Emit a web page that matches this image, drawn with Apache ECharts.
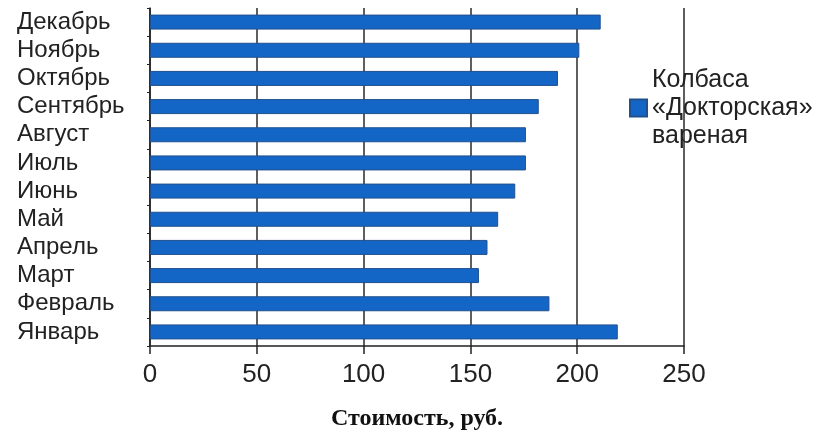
<!DOCTYPE html>
<html lang="ru">
<head>
    <meta charset="UTF-8">
    <title>Колбаса</title>
    <style>
        body { margin: 0; overflow: hidden; background: #fff; }
        #chart { width: 819px; height: 436px; }
    </style>
</head>
<body>
    <div id="chart"></div>
    <script src="https://cdn.jsdelivr.net/npm/echarts@6/dist/echarts.min.js"></script>
    <script>
        // месяцы снизу вверх (Январь внизу)
        var months = ['Январь', 'Февраль', 'Март', 'Апрель', 'Май', 'Июнь',
            'Июль', 'Август', 'Сентябрь', 'Октябрь', 'Ноябрь', 'Декабрь'];
        var prices = [219, 187, 154, 158, 163, 171, 176, 176, 182, 191, 201, 211];
        var seriesName = 'Колбаса «Докторская» вареная';
        var axisTitle = 'Стоимость, руб.';

        var myChart = echarts.init(document.getElementById('chart'));

        var option = {
            animation: false,
            grid: { left: 150, right: 135, top: 8, bottom: 88 },
            legend: {
                left: 624,
                top: 61,
                itemWidth: 17,
                itemHeight: 17,
                itemGap: 8,
                icon: 'rect',
                formatter: function () {
                    return 'Колбаса\n«Докторская»\nвареная';
                },
                textStyle: {
                    fontFamily: 'Liberation Sans, Arial, sans-serif',
                    fontSize: 25,
                    lineHeight: 28,
                    color: '#222'
                }
            },
            xAxis: {
                type: 'value',
                min: 0,
                max: 250,
                interval: 50,
                name: axisTitle,
                nameLocation: 'middle',
                nameGap: 61,
                nameTextStyle: {
                    fontFamily: 'Liberation Serif, Times New Roman, serif',
                    fontWeight: 'bold',
                    fontSize: 24,
                    color: '#111'
                },
                axisLine: { show: true, lineStyle: { color: '#222', width: 1.5 } },
                axisTick: { show: true, length: 8, lineStyle: { color: '#222', width: 1.5 } },
                axisLabel: {
                    margin: 16,
                    fontFamily: 'Liberation Sans, Arial, sans-serif',
                    fontSize: 26,
                    color: '#222'
                },
                splitLine: { show: true, lineStyle: { color: '#2a2a2a', width: 1.5 } }
            },
            yAxis: {
                type: 'category',
                data: months,
                axisLine: { show: true, lineStyle: { color: '#222', width: 1.5 } },
                axisTick: { show: true, length: 3, lineStyle: { color: '#222' } },
                axisLabel: {
                    interval: 0,
                    hideOverlap: false,
                    align: 'left',
                    margin: 133,
                    fontFamily: 'Liberation Sans, Arial, sans-serif',
                    fontSize: 24,
                    lineHeight: 24,
                    color: '#222'
                }
            },
            series: [{
                name: seriesName,
                type: 'bar',
                barWidth: 15,
                data: prices,
                itemStyle: {
                    color: '#1466c6',
                    borderColor: '#21508f',
                    borderWidth: 1
                }
            }]
        };

        myChart.setOption(option);
    </script>
</body>
</html>
